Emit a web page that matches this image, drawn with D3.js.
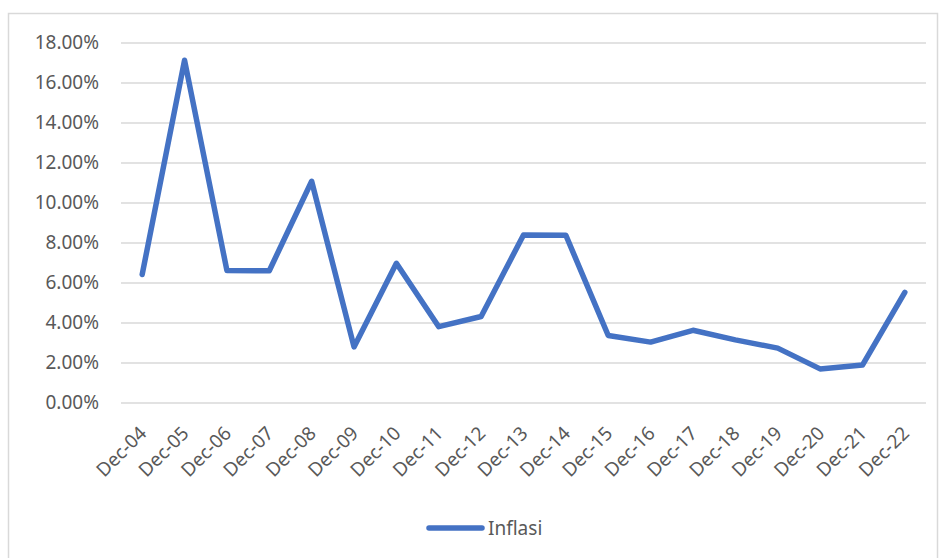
<!DOCTYPE html>
<html>
<head>
<meta charset="utf-8">
<script src="https://cdn.jsdelivr.net/npm/d3@7"></script>
<style>
  body { margin: 0; background: #fff; }
  text { font-family: 'Noto Sans', sans-serif; fill: #595959; }
</style>
</head>
<body>
<svg id="chart" width="942" height="558"></svg>
<script>
// Données : inflation annuelle (décembre)
var categories = ['Dec-04', 'Dec-05', 'Dec-06', 'Dec-07', 'Dec-08', 'Dec-09', 'Dec-10',
  'Dec-11', 'Dec-12', 'Dec-13', 'Dec-14', 'Dec-15', 'Dec-16', 'Dec-17', 'Dec-18',
  'Dec-19', 'Dec-20', 'Dec-21', 'Dec-22']
var inflasi = [6.40, 17.11, 6.60, 6.59, 11.06, 2.78, 6.96, 3.79, 4.30, 8.38, 8.36,
  3.35, 3.02, 3.61, 3.13, 2.72, 1.68, 1.87, 5.51]
var yTicks = [0, 2, 4, 6, 8, 10, 12, 14, 16, 18]
var seriesName = 'Inflasi'

var width = 942
var height = 558
var margin = { top: 42.5, right: 16, bottom: 155.5, left: 121 }
var graphWidth = width - margin.left - margin.right
var graphHeight = height - margin.top - margin.bottom
var fontSize = '19px'

var svg = d3.select('#chart')

// Cadre extérieur
svg.append('rect')
  .attr('x', 8.5).attr('y', 13.5)
  .attr('width', 929).attr('height', 560)
  .attr('fill', 'none')
  .attr('stroke', '#d9d9d9')
  .attr('stroke-width', 1.5)

var xScale = d3.scalePoint()
  .domain(categories)
  .range([0, graphWidth])
  .padding(0.5)

var yScale = d3.scaleLinear()
  .domain([0, 18])
  .range([graphHeight, 0])

var graph = svg.append('g')
  .attr('transform', 'translate(' + margin.left + ',' + margin.top + ')')

// Axe des ordonnées + grille
var yAxis = graph.append('g')
  .attr('class', 'y-axis')
  .call(d3.axisLeft(yScale)
    .tickValues(yTicks)
    .tickSize(-graphWidth)
    .tickPadding(22)
    .tickFormat(function (d) { return d.toFixed(2) + '%' }))
yAxis.select('.domain').remove()
yAxis.selectAll('line').attr('stroke', '#d9d9d9').attr('stroke-width', 1.5)
yAxis.selectAll('text').style('font-size', fontSize).attr('fill', '#595959')

// Axe des abscisses
var xAxis = graph.append('g')
  .attr('class', 'x-axis')
  .attr('transform', 'translate(0,' + graphHeight + ')')
  .call(d3.axisBottom(xScale).tickSize(0).tickPadding(0))
xAxis.select('.domain').remove()
xAxis.selectAll('text')
  .style('font-size', fontSize)
  .attr('fill', '#595959')
  .attr('text-anchor', 'end')
  .attr('y', 0)
  .attr('dy', 0)
  .attr('transform', 'translate(5,32) rotate(-45)')

// Ligne
var line = d3.line()
  .x(function (d, i) { return xScale(categories[i]) })
  .y(function (d) { return yScale(d) })

graph.append('path')
  .datum(inflasi)
  .attr('fill', 'none')
  .attr('stroke', '#4472c4')
  .attr('stroke-width', 5.5)
  .attr('stroke-linejoin', 'round')
  .attr('stroke-linecap', 'round')
  .attr('d', line)

// Légende
var legend = svg.append('g')
  .attr('transform', 'translate(429,528)')
legend.append('line')
  .attr('x1', 0).attr('x2', 53)
  .attr('stroke', '#4472c4')
  .attr('stroke-width', 5.5)
  .attr('stroke-linecap', 'round')
legend.append('text')
  .attr('x', 59)
  .attr('dy', '0.35em')
  .style('font-size', fontSize)
  .text(seriesName)
</script>
</body>
</html>
